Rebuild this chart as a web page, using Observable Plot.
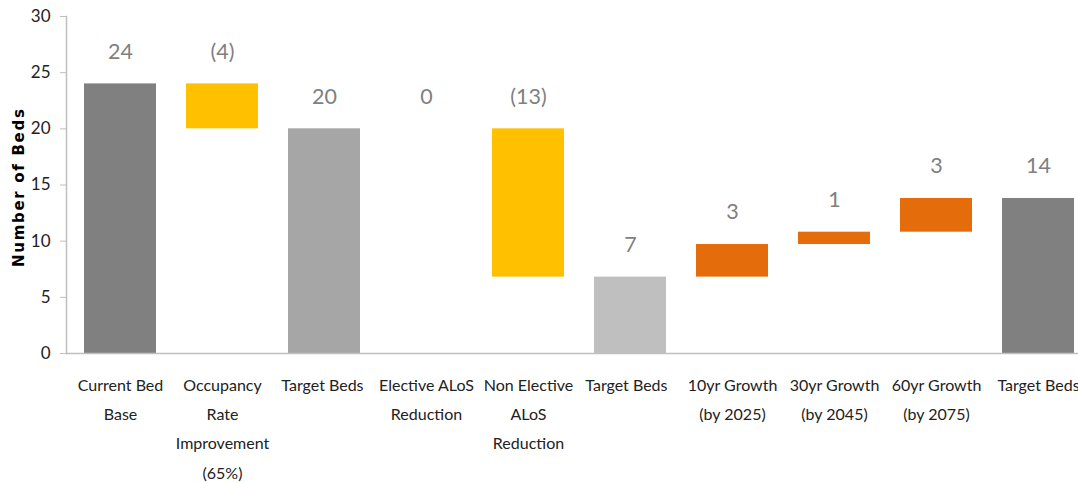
<!DOCTYPE html>
<html>
<head>
<meta charset="utf-8">
<script src="https://cdn.jsdelivr.net/npm/d3@7"></script>
<script src="https://cdn.jsdelivr.net/npm/@observablehq/plot@0.6"></script>
<style>
  html, body { margin: 0; padding: 0; background: #fff; overflow: hidden; }
  svg { overflow: hidden; }
  .ylab text { letter-spacing: 1.7px; }
</style>
</head>
<body>
<div id="chart"></div>
<script>
const categories = [
  "Current Bed\nBase",
  "Occupancy\nRate\nImprovement\n(65%)",
  "Target Beds ",
  "Elective ALoS\nReduction",
  "Non Elective\nALoS\nReduction",
  "Target Beds  ",
  "10yr Growth\n(by 2025)",
  "30yr Growth\n(by 2045)",
  "60yr Growth\n(by 2075)",
  "Target Beds"
];
const starts = [0, 24, 0, 20, 20, 0, 6.8, 9.7, 10.8, 0];
const ends   = [24, 20, 20, 20, 6.8, 6.8, 9.7, 10.8, 13.8, 13.8];
const valueLabels = ["24", "(4)", "20", "0", "(13)", "7", "3", "1", "3", "14"];
const colors = ["#808080", "#FFC000", "#A6A6A6", "#FFC000", "#FFC000", "#BFBFBF", "#E46C0A", "#E46C0A", "#E46C0A", "#808080"];
const yTicks = [0, 5, 10, 15, 20, 25, 30];

const data = categories.map((c, i) => ({
  cat: c, y1: starts[i], y2: ends[i], top: Math.max(starts[i], ends[i]),
  label: valueLabels[i], color: colors[i]
}));

const chart = Plot.plot({
  width: 1078,
  height: 483,
  marginLeft: 66,
  marginRight: -14,
  marginTop: 16,
  marginBottom: 130,
  style: { fontFamily: "Lato, 'Open Sans', sans-serif", background: "#fff" },
  x: { domain: categories, paddingInner: 0.29, paddingOuter: 0.145 },
  y: { domain: [0, 30] },
  marks: [
    Plot.barY(data.filter(d => d.y1 !== d.y2), { x: "cat", y1: "y1", y2: "y2", fill: "color" }),
    Plot.ruleY([0], { stroke: "#BFBFBF", strokeWidth: 1.5 }),
    Plot.frame({ anchor: "left", stroke: "#BFBFBF", strokeWidth: 1.5 }),
    Plot.axisY({ ticks: yTicks, tickSize: 6, tickPadding: 10, fontSize: 17, label: null, stroke: "#BFBFBF", color: "#222" }),
    Plot.axisX({ tickSize: 0, tickPadding: 17, fontSize: 16, lineHeight: 1.82, label: null, color: "#222" }),
    Plot.text(data, { x: "cat", y: "top", text: "label", dy: -32, fill: "#7F7F7F", fontSize: 21.5 }),
    Plot.text(["Number of Beds"], { className: "ylab", frameAnchor: "left", textAnchor: "start", rotate: -90, dx: -47, dy: 82, fontFamily: "'DejaVu Sans', sans-serif", fontWeight: "bold", fontSize: 15, fill: "#000", text: d => d })
  ]
});
document.getElementById("chart").appendChild(chart);
</script>
</body>
</html>
